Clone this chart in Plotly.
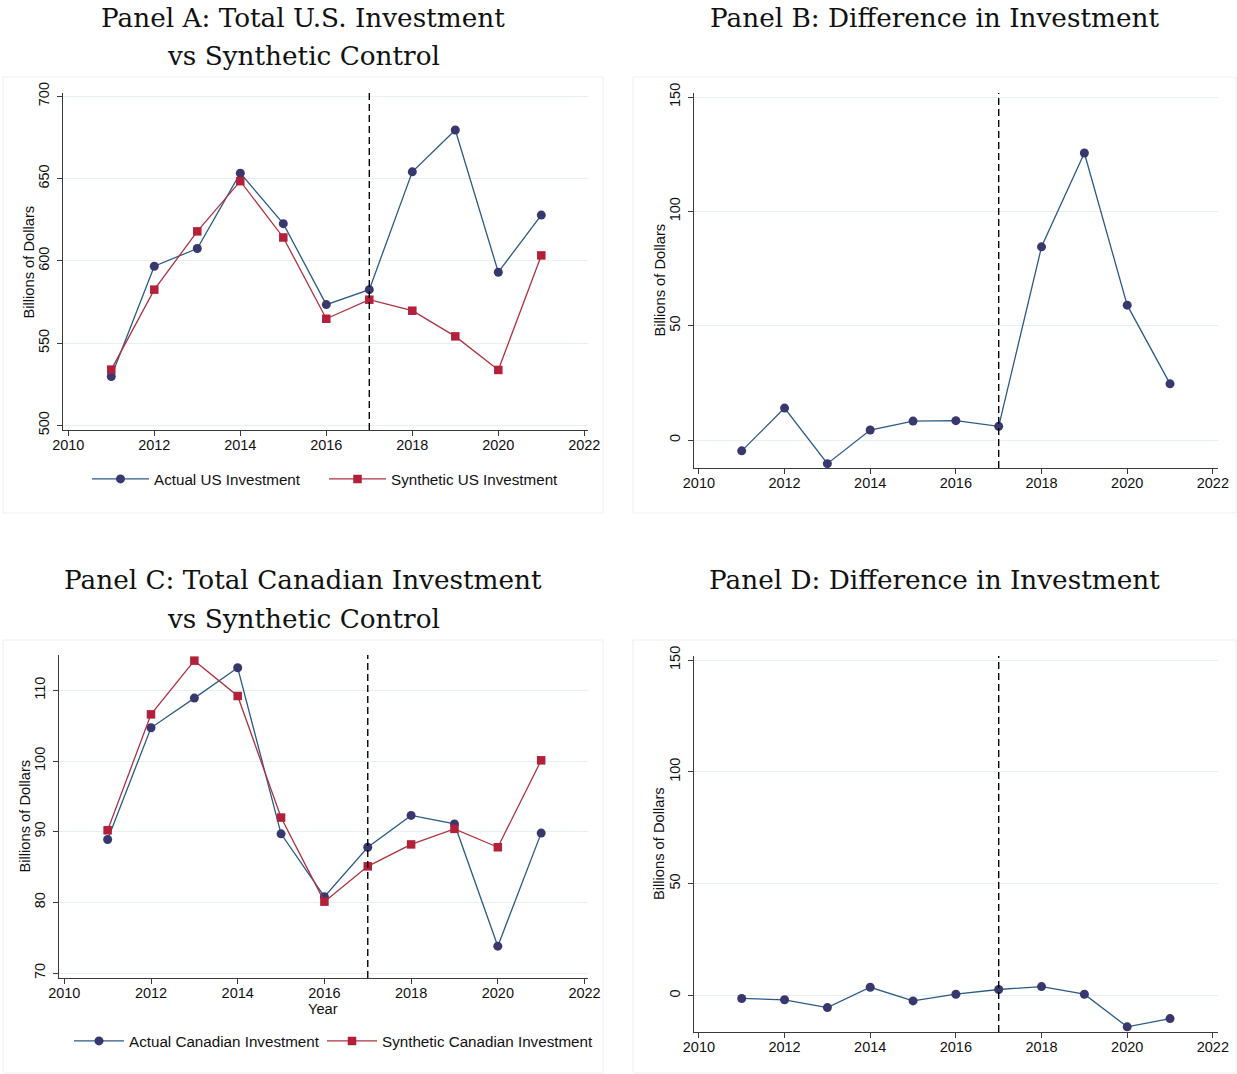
import plotly.graph_objects as go

# ---------------- data ----------------
years = [2011, 2012, 2013, 2014, 2015, 2016, 2017, 2018, 2019, 2020, 2021]
us_actual = [529.7, 596.7, 607.5, 653.3, 622.6, 573.4, 582.5, 654.1, 679.5, 593.1, 627.8]
us_synth = [533.9, 582.5, 617.9, 648.4, 614.2, 564.8, 576.4, 569.7, 554.1, 533.7, 603.3]
us_diff = [-4.7, 14.0, -10.3, 4.4, 8.3, 8.5, 6.0, 84.5, 125.5, 59.0, 24.6]
ca_actual = [88.9, 104.7, 108.9, 113.2, 89.7, 80.8, 87.8, 92.3, 91.1, 73.8, 89.8]
ca_synth = [90.2, 106.6, 114.2, 109.2, 92.0, 80.1, 85.1, 88.2, 90.4, 87.8, 100.1]
ca_diff = [-1.3, -1.9, -5.4, 3.7, -2.4, 0.6, 2.7, 4.0, 0.6, -14.0, -10.3]
treatment_year = 2017

x_ticks = [2010, 2012, 2014, 2016, 2018, 2020, 2022]
y_ticks_us = [500, 550, 600, 650, 700]
y_ticks_diff = [0, 50, 100, 150]
y_ticks_ca = [70, 80, 90, 100, 110]

panel_titles = {
    "A": ["Panel A: Total U.S. Investment", "vs Synthetic Control"],
    "B": ["Panel B: Difference in Investment"],
    "C": ["Panel C: Total Canadian Investment", "vs Synthetic Control"],
    "D": ["Panel D: Difference in Investment"],
}
y_title = "Billions of Dollars"
x_title = "Year"

# ---------------- styling ----------------
W, H = 1237, 1074
NAVY_LINE = "#2a5b88"
NAVY_MARK = "#38386f"
RED_LINE = "#ad3340"
RED_MARK = "#b3203a"
SANS = "Liberation Sans, Arial, sans-serif"
SERIF = "DejaVu Serif, serif"
TICKFONT = dict(family=SANS, size=14.5, color="#111111")
LEGFONT = dict(family=SANS, size=15.2, color="#111111")
GRID = "#e7eff1"
AXIS = "#3a3a3a"


def px_x(p):
    return p / W


def px_y(p):
    return 1 - p / H


fig = go.Figure()


def actual_trace(y, name, xa, ya, show, legend="legend", lw=None):
    return go.Scatter(
        x=years, y=y, name=name, mode="lines+markers", xaxis=xa, yaxis=ya,
        line=dict(color=NAVY_LINE, width=1.3),
        marker=dict(symbol="circle", size=9, color=NAVY_MARK),
        showlegend=show, legend=legend, legendwidth=lw,
    )


def synth_trace(y, name, xa, ya, show, legend="legend", lw=None):
    return go.Scatter(
        x=years, y=y, name=name, mode="lines+markers", xaxis=xa, yaxis=ya,
        line=dict(color=RED_LINE, width=1.3),
        marker=dict(symbol="square", size=8.5, color=RED_MARK),
        showlegend=show, legend=legend, legendwidth=lw,
    )


fig.add_trace(actual_trace(us_actual, "Actual US Investment", "x", "y", True, lw=165))
fig.add_trace(synth_trace(us_synth, "Synthetic US Investment", "x", "y", True, lw=210))
fig.add_trace(actual_trace(us_diff, "US Difference", "x2", "y2", False))
fig.add_trace(actual_trace(ca_actual, "Actual Canadian Investment", "x3", "y3", True, "legend2", lw=188))
fig.add_trace(synth_trace(ca_synth, "Synthetic Canadian Investment", "x3", "y3", True, "legend2", lw=240))
fig.add_trace(actual_trace(ca_diff, "Canada Difference", "x4", "y4", False))

# panel geometry in pixels: (left, right, top, bottom)
geo = {
    "A": (63, 588, 93, 430),
    "B": (694, 1218, 93, 468),
    "C": (59, 588, 655, 978),
    "D": (694, 1218, 656, 1032),
}
xr = {
    "A": [2009.877, 2022.086],
    "B": [2009.886, 2022.12],
    "C": [2009.878, 2022.08],
    "D": [2009.886, 2022.12],
}
yr = {
    "A": [497.2, 702.0],
    "B": [-12.2, 151.75],
    "C": [69.3, 115.0],
    "D": [-16.3, 151.8],
}
yt = {"A": y_ticks_us, "B": y_ticks_diff, "C": y_ticks_ca, "D": y_ticks_diff}
suffix = {"A": "", "B": "2", "C": "3", "D": "4"}

layout = dict(
    template="none",
    width=W, height=H,
    margin=dict(l=0, r=0, t=0, b=0, autoexpand=False),
    paper_bgcolor="white", plot_bgcolor="white",
)

shapes = []
annotations = []
for key, (l, r, t, b) in geo.items():
    s = suffix[key]
    layout["xaxis" + s] = dict(
        domain=[px_x(l), px_x(r)], range=xr[key], anchor="y" + s,
        tickmode="array", tickvals=x_ticks, ticks="outside", ticklen=5,
        tickcolor=AXIS, showline=True, linecolor=AXIS, linewidth=1.2,
        showgrid=False, zeroline=False, tickfont=TICKFONT, automargin=False,
        ticklabelstandoff=-4,
    )
    layout["yaxis" + s] = dict(
        domain=[px_y(b), px_y(t)], range=yr[key], anchor="x" + s,
        tickmode="array", tickvals=yt[key], ticks="outside", ticklen=5,
        tickcolor=AXIS, showline=True, linecolor=AXIS, linewidth=1.2,
        showgrid=True, gridcolor=GRID, gridwidth=1, zeroline=False,
        tickfont=TICKFONT, tickangle=-90, automargin=False,
        ticklabelstandoff=2,
    )
    # treatment line
    shapes.append(dict(
        type="line", xref="x" + s, yref="y" + s + " domain",
        x0=treatment_year, x1=treatment_year, y0=0, y1=1,
        line=dict(color="black", width=1.4, dash="7px,4px"),
    ))
    # y axis title
    annotations.append(dict(
        text=y_title, textangle=-90, xref="paper", yref="paper",
        x=px_x(l - 35), y=px_y((t + b) / 2), xanchor="center", yanchor="middle",
        showarrow=False, font=dict(family=SANS, size=14.7, color="#111111"),
    ))

# panel borders
for (x0, y0, x1, y1) in [(3, 77, 603, 513), (633, 77, 1236, 513),
                         (3, 640, 603, 1073), (633, 640, 1236, 1073)]:
    shapes.append(dict(type="rect", xref="paper", yref="paper",
                       x0=px_x(x0), x1=px_x(x1), y0=px_y(y1), y1=px_y(y0),
                       line=dict(color="#efefef", width=1), layer="below"))

# panel titles
title_pos = {"A": (303, [18, 56]), "B": (934, [18]), "C": (303, [580, 619]), "D": (934, [580])}
for key, (cx, ys) in title_pos.items():
    for line, yy in zip(panel_titles[key], ys):
        annotations.append(dict(
            text=line, xref="paper", yref="paper", x=px_x(cx), y=px_y(yy),
            xanchor="center", yanchor="middle", showarrow=False,
            font=dict(family=SERIF, size=26.3, color="#111111"),
        ))

# x title for panel C
annotations.append(dict(
    text=x_title, xref="paper", yref="paper", x=px_x(323), y=px_y(1009),
    xanchor="center", yanchor="middle", showarrow=False,
    font=dict(family=SANS, size=14.7, color="#111111"),
))

layout["shapes"] = shapes
layout["annotations"] = annotations
layout["legend"] = dict(
    orientation="h", x=px_x(87), y=px_y(479), xanchor="left", yanchor="middle",
    font=LEGFONT, bgcolor="rgba(0,0,0,0)", itemwidth=57,
)
layout["legend2"] = dict(
    orientation="h", x=px_x(69), y=px_y(1041), xanchor="left", yanchor="middle",
    font=LEGFONT, bgcolor="rgba(0,0,0,0)", itemwidth=50,
)

fig.update_layout(**layout)
fig.write_html(
    "out.html",
    config={"displayModeBar": False},
    post_script="document.body.style.margin='0px';document.body.style.overflow='hidden';",
)
